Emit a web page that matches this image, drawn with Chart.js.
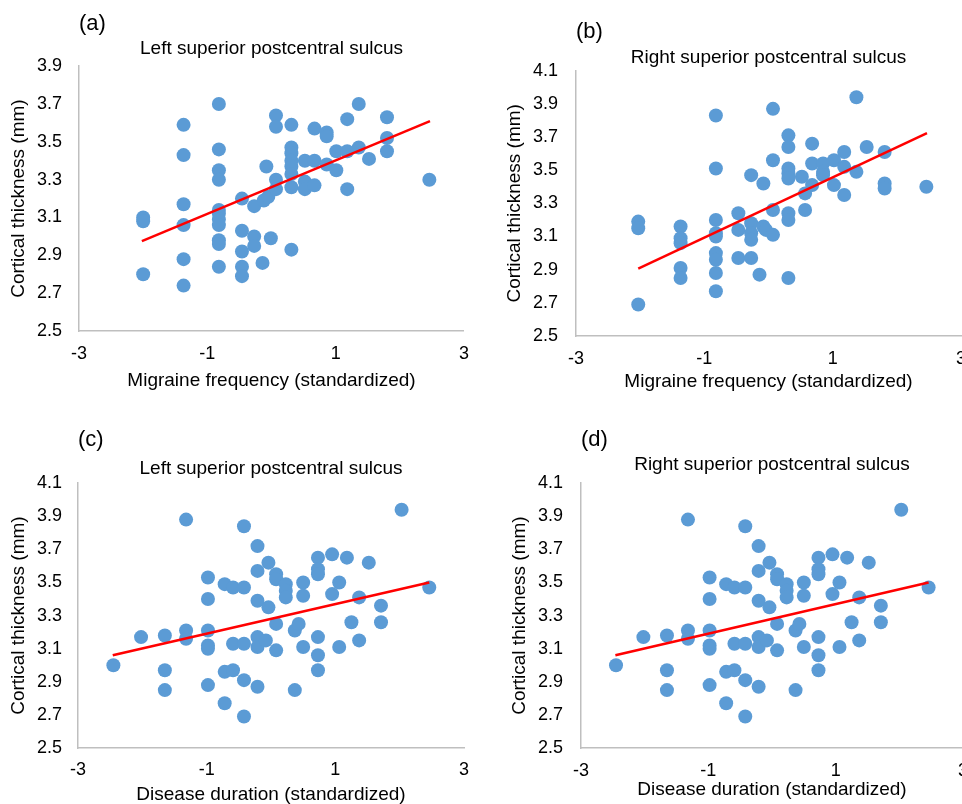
<!DOCTYPE html>
<html>
<head>
<meta charset="utf-8">
<script src="https://cdn.jsdelivr.net/npm/chart.js@4"></script>
<style>
  html, body { margin: 0; padding: 0; background: #fff; overflow: hidden; }
  canvas { position: absolute; }
</style>
</head>
<body>
<canvas id="chartA" width="481" height="400" style="left:0;top:0"></canvas>
<canvas id="chartB" width="499" height="400" style="left:481px;top:0"></canvas>
<canvas id="chartC" width="481" height="410" style="left:0;top:400px"></canvas>
<canvas id="chartD" width="499" height="410" style="left:481px;top:400px"></canvas>
<script>
// (a) left sulcus vs migraine frequency
const leftFreqX = [-2.0, -2.0, -2.0,
  -1.37, -1.37, -1.37, -1.37, -1.37, -1.37,
  -0.82, -0.82, -0.82, -0.82, -0.82, -0.82, -0.82, -0.82, -0.82, -0.82, -0.82,
  -0.46, -0.46, -0.46, -0.46, -0.46,
  -0.27, -0.27, -0.27, -0.14, -0.08, -0.12, -0.05, -0.01,
  0.07, 0.07, 0.07, 0.07,
  0.31, 0.31, 0.31, 0.31, 0.31, 0.31, 0.31, 0.31,
  0.52, 0.52, 0.52, 0.67, 0.67, 0.67, 0.86, 0.86, 0.86,
  1.01, 1.01, 1.18, 1.18, 1.18, 1.36, 1.36, 1.52,
  1.80, 1.80, 1.80, 2.46];
const leftFreqY = [3.10, 3.08, 2.80,
  3.59, 3.43, 3.17, 3.06, 2.88, 2.74,
  3.70, 3.46, 3.35, 3.30, 3.14, 3.12, 3.09, 3.06, 2.98, 2.96, 2.84,
  3.20, 3.03, 2.92, 2.84, 2.79,
  3.16, 3.00, 2.95, 2.86, 3.37, 3.19, 3.21, 2.99,
  3.64, 3.58, 3.30, 3.25,
  3.59, 3.47, 3.44, 3.40, 3.37, 3.33, 3.26, 2.93,
  3.29, 3.25, 3.40, 3.57, 3.40, 3.27, 3.55, 3.53, 3.38,
  3.45, 3.35, 3.62, 3.45, 3.25, 3.70, 3.47, 3.41,
  3.63, 3.52, 3.45, 3.30];
const leftFreqFitX = [-2.02, 2.47];
const leftFreqFitY = [2.975, 3.61];

// (b) right sulcus vs migraine frequency
const rightFreqX = [-2.03, -2.03, -2.03,
  -1.37, -1.37, -1.37, -1.37, -1.37,
  -0.82, -0.82, -0.82, -0.82, -0.82, -0.82, -0.82, -0.82, -0.82,
  -0.47, -0.47, -0.47,
  -0.27, -0.27, -0.27, -0.27, -0.27, -0.14,
  -0.08, -0.08, -0.04,
  0.07, 0.07, 0.07, 0.07,
  0.31, 0.31, 0.31, 0.31, 0.31, 0.31, 0.31, 0.31,
  0.52, 0.57, 0.57, 0.68, 0.68, 0.68, 0.85, 0.85, 0.85,
  1.02, 1.02, 1.18, 1.18, 1.18, 1.37, 1.37, 1.53,
  1.81, 1.81, 1.81, 2.46];
const rightFreqY = [3.19, 3.15, 2.69,
  3.16, 3.09, 3.06, 2.91, 2.85,
  3.83, 3.51, 3.20, 3.12, 3.10, 3.00, 2.96, 2.88, 2.77,
  3.24, 3.14, 2.97,
  3.47, 3.18, 3.12, 3.08, 2.97, 2.87,
  3.42, 3.16, 3.14,
  3.87, 3.56, 3.26, 3.11,
  3.71, 3.64, 3.51, 3.48, 3.45, 3.24, 3.20, 2.85,
  3.46, 3.36, 3.26, 3.66, 3.54, 3.41, 3.54, 3.49, 3.47,
  3.56, 3.41, 3.61, 3.52, 3.35, 3.94, 3.49, 3.64,
  3.61, 3.42, 3.39, 3.40];
const rightFreqFitX = [-2.03, 2.47];
const rightFreqFitY = [2.907, 3.723];

// (c) and (d) vs disease duration (same points in both panels)
const durationX = [-2.45, -2.02,
  -1.65, -1.65, -1.65, -1.32, -1.32, -1.32,
  -0.98, -0.98, -0.98, -0.98, -0.98, -0.98,
  -0.72, -0.72, -0.72, -0.59, -0.59, -0.59,
  -0.42, -0.42, -0.42, -0.42, -0.42,
  -0.21, -0.21, -0.21, -0.21, -0.21, -0.21,
  -0.08, -0.04, -0.04,
  0.08, 0.08, 0.08, 0.08, 0.23, 0.23, 0.23,
  0.37, 0.37, 0.43, 0.50, 0.50, 0.50,
  0.73, 0.73, 0.73, 0.73, 0.73, 0.73,
  0.95, 0.95, 1.06, 1.06, 1.18, 1.25, 1.37, 1.37, 1.52,
  1.71, 1.71, 2.03, 2.46];
const durationY = [3.00, 3.17,
  3.18, 2.97, 2.85, 3.88, 3.21, 3.16,
  3.53, 3.40, 3.21, 3.12, 3.10, 2.88,
  3.49, 2.96, 2.77, 3.47, 3.13, 2.97,
  3.84, 3.47, 3.13, 2.91, 2.69,
  3.72, 3.57, 3.39, 3.17, 3.11, 2.87,
  3.15, 3.62, 3.35,
  3.55, 3.52, 3.25, 3.09, 3.49, 3.45, 3.41,
  3.21, 2.85, 3.25, 3.50, 3.42, 3.11,
  3.65, 3.58, 3.55, 3.17, 3.06, 2.97,
  3.67, 3.43, 3.50, 3.11, 3.65, 3.26, 3.41, 3.15, 3.62,
  3.36, 3.26, 3.94, 3.47];
const durationFitX = [-2.46, 2.46];
const durationFitY = [3.06, 3.50];

const xTicks = [-3, -1, 1, 3];
const yTicksA = [2.5, 2.7, 2.9, 3.1, 3.3, 3.5, 3.7, 3.9];
const yTicksB = [2.5, 2.7, 2.9, 3.1, 3.3, 3.5, 3.7, 3.9, 4.1];

const FONT = '"Liberation Sans", Arial, Helvetica, sans-serif';

function toPoints(xs, ys) {
    return xs.map(function (x, i) { return { x: x, y: ys[i] }; });
}

function makePanel(id, p) {
    const ctx = document.getElementById(id);
    new Chart(ctx, {
        type: 'scatter',
        data: {
            datasets: [
                {
                    type: 'line',
                    data: toPoints(p.fitX, p.fitY),
                    borderColor: '#ff0000',
                    borderWidth: 2.5,
                    pointRadius: 0,
                    fill: false,
                },
                {
                    data: toPoints(p.xs, p.ys),
                    backgroundColor: '#5b9bd5',
                    borderWidth: 0,
                    pointRadius: 7,
                    pointHoverRadius: 7,
                }
            ]
        },
        options: {
            responsive: false,
            animation: false,
            events: [],
            layout: { padding: { left: 0, top: 0, right: p.padRight, bottom: 0 } },
            plugins: {
                legend: { display: false },
                tooltip: { enabled: false },
                title: {
                    display: true,
                    text: p.label,
                    align: 'start',
                    fullSize: false,
                    color: '#000',
                    font: { family: FONT, size: 22, weight: 'normal' },
                    padding: { top: p.labelTop, bottom: 0 },
                },
                subtitle: {
                    display: true,
                    text: p.title,
                    fullSize: false,
                    color: '#000',
                    font: { family: FONT, size: 19 },
                    padding: { top: p.titleTop, bottom: p.titleBottom },
                }
            },
            scales: {
                x: {
                    type: 'linear',
                    min: xTicks[0],
                    max: xTicks[xTicks.length - 1],
                    ticks: {
                        stepSize: xTicks[1] - xTicks[0],
                        color: '#000',
                        font: { family: FONT, size: 18 },
                        padding: p.xTickPad,
                    },
                    grid: { display: false, drawTicks: false },
                    border: { display: true, color: '#bfbfbf', width: 1.5 },
                    title: {
                        display: true,
                        text: p.xTitle,
                        color: '#000',
                        font: { family: FONT, size: 19 },
                        padding: { top: 0, bottom: p.xTitleBottom },
                    },
                    afterFit: function (scale) { scale.height = p.xHeight; },
                },
                y: {
                    type: 'linear',
                    min: p.yTicks[0],
                    max: p.yTicks[p.yTicks.length - 1],
                    ticks: {
                        stepSize: 0.2,
                        color: '#000',
                        font: { family: FONT, size: 18 },
                        padding: p.yTickPad,
                    },
                    grid: { display: false, drawTicks: false },
                    border: { display: true, color: '#bfbfbf', width: 1.5 },
                    title: {
                        display: true,
                        text: 'Cortical thickness (mm)',
                        color: '#000',
                        font: { family: FONT, size: 19 },
                        padding: { top: p.yTitleTop, bottom: 0 },
                    },
                    afterFit: function (scale) { scale.width = p.yWidth; },
                }
            }
        }
    });
}

document.addEventListener('DOMContentLoaded', function () {
    makePanel('chartA', {
        label: '(a)', title: 'Left superior postcentral sulcus',
        xTitle: 'Migraine frequency (standardized)',
        xs: leftFreqX, ys: leftFreqY, fitX: leftFreqFitX, fitY: leftFreqFitY,
        yTicks: yTicksA,
        padRight: 17, labelTop: 11, titleTop: 0, titleBottom: 6,
        yWidth: 79, yTickPad: 17, yTitleTop: 7,
        xHeight: 69, xTickPad: 12, xTitleBottom: 8,
    });
    makePanel('chartB', {
        label: '(b)', title: 'Right superior postcentral sulcus',
        xTitle: 'Migraine frequency (standardized)',
        xs: rightFreqX, ys: rightFreqY, fitX: rightFreqFitX, fitY: rightFreqFitY,
        yTicks: yTicksB,
        padRight: 19, labelTop: 19, titleTop: 0.5, titleBottom: 2,
        yWidth: 95, yTickPad: 18, yTitleTop: 22,
        xHeight: 64, xTickPad: 12, xTitleBottom: 6.5,
    });
    makePanel('chartC', {
        label: '(c)', title: 'Left superior postcentral sulcus',
        xTitle: 'Disease duration (standardized)',
        xs: durationX, ys: durationY, fitX: durationFitX, fitY: durationFitY,
        yTicks: yTicksB,
        padRight: 17, labelTop: 27, titleTop: 3.5, titleBottom: 3.5,
        yWidth: 78, yTickPad: 16, yTitleTop: 7.5,
        xHeight: 62, xTickPad: 11, xTitleBottom: 3.5,
    });
    makePanel('chartD', {
        label: '(d)', title: 'Right superior postcentral sulcus',
        xTitle: 'Disease duration (standardized)',
        xs: durationX, ys: durationY, fitX: durationFitX, fitY: durationFitY,
        yTicks: yTicksB,
        padRight: 15, labelTop: 27, titleTop: 0, titleBottom: 7,
        yWidth: 100, yTickPad: 18, yTitleTop: 27.5,
        xHeight: 62, xTickPad: 12, xTitleBottom: 8.5,
    });
});
</script>
</body>
</html>
